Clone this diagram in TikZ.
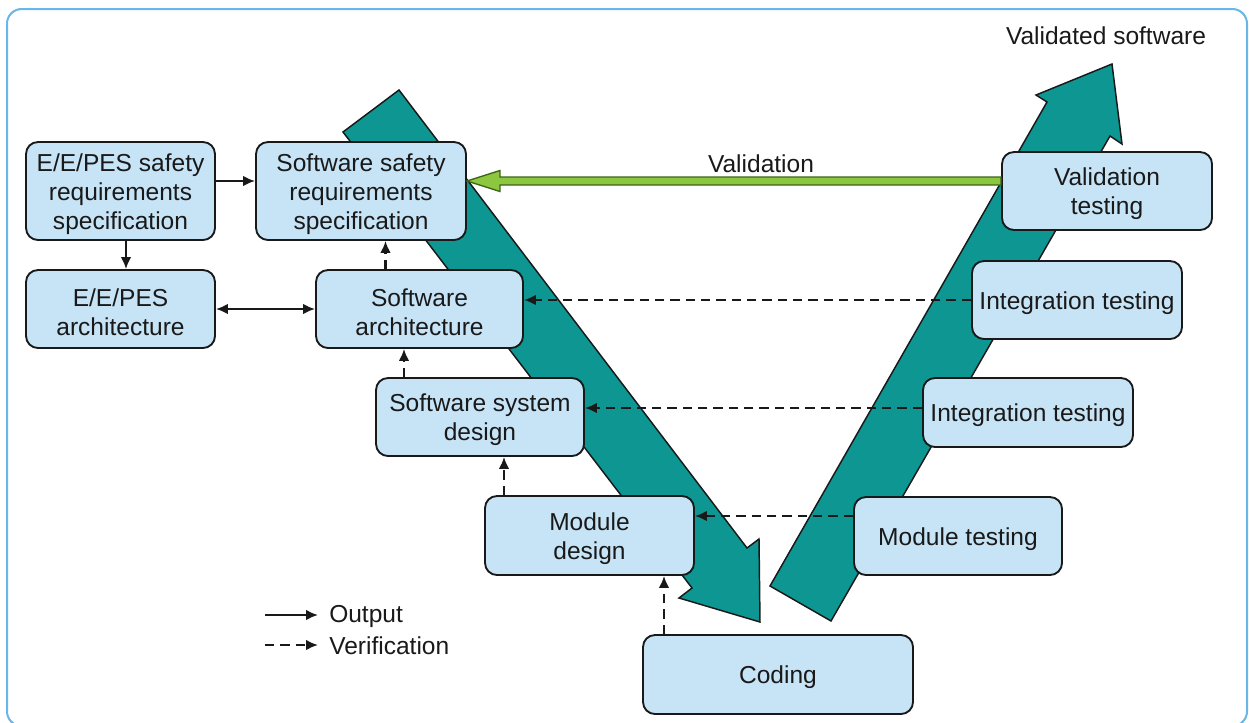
\documentclass[tikz,border=0pt]{standalone}
\usepackage{fontspec}
\setmainfont{Liberation Sans}
\usetikzlibrary{arrows.meta,calc}
\definecolor{boxfill}{RGB}{198,228,246}
\definecolor{tealc}{RGB}{14,150,147}
\definecolor{framec}{RGB}{104,182,234}
\definecolor{gfill}{RGB}{141,198,63}
\definecolor{gline}{RGB}{60,100,25}
\definecolor{ink}{RGB}{25,25,25}
\newcommand{\boxtop}{\rule{0pt}{17.8pt}}
\begin{document}
\begin{tikzpicture}[x=0.75pt,y=-0.75pt,
  box/.style={draw=ink, fill=boxfill, line width=1.4pt, rounded corners=9pt,
    align=center, inner sep=0pt, font=\fontsize{18.4}{21.8}\selectfont, text=ink},
  tipa/.tip={Latex[length=9pt,width=8pt]},
  outarr/.style={line width=1.6pt, draw=ink, -tipa},
  bothARR/.style={line width=1.6pt, draw=ink, tipa-tipa},
  verarr/.style={outarr, dash pattern=on 7pt off 4.5pt},
  bigarrow/.style={fill=tealc, draw=ink, line width=1.1pt, line join=miter},
  lbl/.style={font=\fontsize{18.4}{21.8}\selectfont, text=ink, inner sep=0pt}]
\useasboundingbox (0,0) rectangle (1249,722);
% frame
\begin{scope}
  \clip (0,0) rectangle (1249,722);
  \draw[framec, line width=1.5pt, rounded corners=11pt] (7,9) rectangle (1247,726);
\end{scope}
% big teal arrows
\draw[bigarrow] (343,132) -- (399,90) -- (747,548) -- (759,539) -- (760,622) -- (679,598) -- (692,588) -- cycle;
\draw[bigarrow] (770,586) -- (1047,102) -- (1036,95) -- (1112,64) -- (1122,144) -- (1110,136) -- (831,621) -- cycle;
% boxes
\node[box, minimum width=141.75pt, minimum height=73.5pt] (ees) at (120.5,191) {\boxtop E/E/PES safety\\requirements\\specification};
\node[box, minimum width=157.5pt, minimum height=73.5pt] (ssrs) at (361,191) {\boxtop Software safety\\requirements\\specification};
\node[box, minimum width=141.75pt, minimum height=58.5pt] (eea) at (120.5,309) {\boxtop E/E/PES\\architecture};
\node[box, minimum width=155.25pt, minimum height=58.5pt] (sa) at (419.5,309) {\boxtop Software\\architecture};
\node[box, minimum width=156pt, minimum height=58.5pt] (ssd) at (480,417) {\boxtop Software system\\design};
\node[box, minimum width=156.75pt, minimum height=59.25pt] (md) at (589.5,535.5) {\boxtop Module\\design};
\node[box, minimum width=202.5pt, minimum height=59.25pt] (cod) at (778,674.5) {\boxtop Coding};
\node[box, minimum width=157.5pt, minimum height=58.5pt] (vt) at (1107,191) {\boxtop Validation\\testing};
\node[box, minimum width=157.5pt, minimum height=58.5pt] (it1) at (1077,300) {\boxtop Integration testing};
\node[box, minimum width=157.5pt, minimum height=51.75pt] (it2) at (1028,412.5) {\boxtop Integration testing};
\node[box, minimum width=156pt, minimum height=58.5pt] (mt) at (958,536) {\boxtop Module testing};
% green validation arrow
\coordinate (gt) at (ssrs.east |- 0,181);
\coordinate (gs) at (vt.west |- 0,181);
\filldraw[fill=gfill, draw=gline, line width=1pt, line join=miter]
  ($(gs)+(0,-4)$) -- ($(gt)+(33,-4)$) -- ($(gt)+(33,-10.5)$) -- (gt)
  -- ($(gt)+(33,10.5)$) -- ($(gt)+(33,4)$) -- ($(gs)+(0,4)$) -- cycle;
% labels
\node[lbl] (valid) at (761,164) {Validation};
\node[lbl] (vsw) at (1106,36) {Validated software};
% connectors
\draw[outarr] (ees.east |- 0,181) -- (ssrs.west |- 0,181);
\draw[outarr] (ees.south -| 126,0) -- (eea.north -| 126,0);
\draw[bothARR] (eea.east) -- (sa.west);
\draw[verarr] (sa.north -| 385.5,0) -- (ssrs.south -| 385.5,0);
\draw[verarr] (ssd.north -| 404,0) -- (sa.south -| 404,0);
\draw[verarr] (md.north -| 504,0) -- (ssd.south -| 504,0);
\draw[verarr] (cod.north -| 664,0) -- (md.south -| 664,0);
\draw[verarr] (it1.west) -- (sa.east |- it1.west);
\draw[verarr] (it2.west |- 0,408) -- (ssd.east |- 0,408);
\draw[verarr] (mt.west |- 0,516) -- (md.east |- 0,516);
% legend
\node[lbl, anchor=west] (lout) at (329,616) {Output};
\node[lbl, anchor=west] (lver) at (329,646) {Verification};
\coordinate (lo) at (265,615);
\coordinate (lv) at (265,645);
\draw[outarr] (lo) -- (lo -| {$(lout.west)+(-11,0)$});
\draw[verarr] (lv) -- (lv -| {$(lver.west)+(-11,0)$});
\end{tikzpicture}
\end{document}
